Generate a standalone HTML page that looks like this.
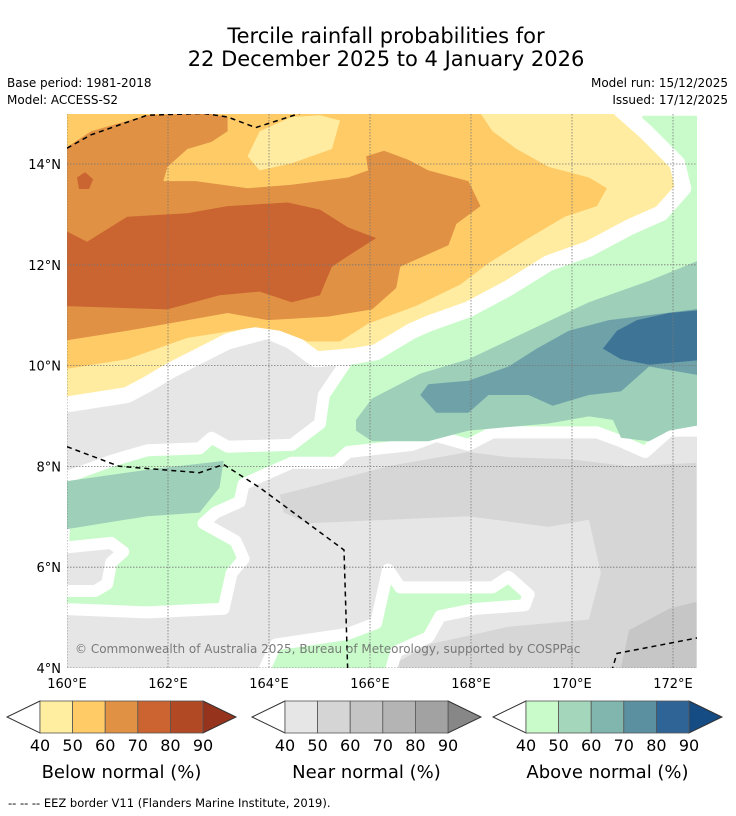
<!DOCTYPE html>
<html><head><meta charset="utf-8"><style>
body{margin:0;background:#fff;width:736px;height:816px;overflow:hidden;font-family:"DejaVu Sans","Liberation Sans",sans-serif}
svg{display:block}
</style></head><body>
<svg id="s" width="736" height="816" xmlns="http://www.w3.org/2000/svg" font-family="DejaVu Sans, Liberation Sans, sans-serif">
<text x="386" y="43" text-anchor="middle" font-size="21">Tercile rainfall probabilities for</text>
<text x="386" y="66" text-anchor="middle" font-size="21">22 December 2025 to 4 January 2026</text>
<text x="7" y="87" font-size="12">Base period: 1981-2018</text>
<text x="7" y="104" font-size="12">Model: ACCESS-S2</text>
<text x="728" y="87" font-size="12" text-anchor="end">Model run: 15/12/2025</text>
<text x="728" y="104" font-size="12" text-anchor="end">Issued: 17/12/2025</text>
<defs><clipPath id="mc"><rect x="67" y="114" width="630" height="554"/></clipPath></defs>
<g id="map" clip-path="url(#mc)"></g>
<g id="ov"></g>
<text x="8" y="807" font-size="11.5">--  --  -- EEZ border V11 (Flanders Marine Institute, 2019).</text>
</svg>
<script>
// axis: lon 160..172.47 , lat 4..15
const lonTicks=[160,162,164,166,168,170,172];
const latTicks=[4,6,8,10,12,14];
const X=lon=>67+(lon-160)*50.5;
const Y=lat=>668-(lat-4)*50.4;
// contour traces sampled on a 125.8/deg (lon) x 141.4/deg (lat) trace grid
const geo=p=>[160+p[0]/125.8,14-(p[1]-152)/141.4];
const gray50=[[530,1080],[600,1060],[800,1000],[1000,960],[1100,975],[1250,980],[1400,1000],[1568,990],[1568,1565],[800,1565],[900,1500],[1100,1450],[1300,1430],[1330,1300],[1300,1150],[1200,1170],[1000,1140],[600,1160],[540,1130]];
const gray60=[[1400,1460],[1500,1400],[1568,1380],[1568,1565],[1380,1565]];
const green40a=[[0,1030],[110,985],[200,955],[330,950],[360,920],[400,945],[560,940],[630,880],[640,800],[700,700],[800,600],[1000,500],[1200,380],[1400,250],[1420,0],[1600,0],[1600,900],[1500,900],[1440,960],[1380,930],[1320,905],[1060,905],[1000,940],[920,915],[860,940],[700,960],[670,990],[560,990],[500,1020],[440,1050],[430,1100],[370,1130],[340,1160],[420,1210],[440,1260],[410,1300],[390,1400],[200,1410],[-20,1400]];
const green40b=[[480,1600],[520,1500],[700,1470],[770,1440],[800,1290],[830,1340],[1060,1340],[1100,1310],[1150,1360],[1140,1390],[1020,1400],[930,1420],[900,1480],[820,1520],[800,1600]];
const grayIsland=[[-20,1230],[110,1215],[140,1240],[110,1270],[100,1330],[70,1350],[-20,1350]];
const green50a=[[720,870],[760,810],[880,740],[1000,700],[1150,620],[1300,540],[1450,480],[1600,410],[1600,880],[1500,900],[1450,930],[1380,920],[1360,870],[1300,860],[1200,880],[1000,900],[900,930],[760,930],[720,900]];
const green50b=[[-20,1045],[200,1010],[390,985],[380,1060],[330,1130],[200,1140],[-20,1180]];
const green60=[[880,800],[900,770],[1000,760],[1100,720],[1170,670],[1250,620],[1350,590],[1600,555],[1600,750],[1450,720],[1380,790],[1300,800],[1210,830],[1150,800],[1050,800],[1000,850],[920,850]];
const green70=[[1335,670],[1370,620],[1420,590],[1500,570],[1600,560],[1600,700],[1450,715],[1380,700]];
const yel40=[[-20,-20],[1360,-20],[1440,60],[1520,150],[1535,220],[1480,290],[1400,330],[1300,390],[1200,430],[1100,500],[1000,560],[900,600],[860,620],[770,680],[720,690],[620,700],[560,650],[500,620],[400,650],[330,690],[260,730],[200,770],[150,800],[-20,830]];
const yel50=[[-20,10],[1030,10],[1060,60],[1120,110],[1200,160],[1300,190],[1345,220],[1320,270],[1240,300],[1150,360],[1050,430],[980,490],[870,550],[750,600],[680,650],[600,650],[530,620],[470,610],[300,640],[150,700],[-20,730]];
const yelTongue=[[450,130],[480,60],[560,20],[630,15],[680,30],[660,110],[560,150],[480,170]];
const yelStrip=[[-20,-20],[1600,-20],[1600,10],[-20,10]];
const org60=[[-20,120],[60,60],[200,15],[350,10],[400,20],[400,60],[360,90],[300,110],[250,160],[240,200],[320,200],[450,220],[560,210],[700,190],[750,170],[745,130],[790,115],[850,140],[900,170],[1000,200],[1030,270],[970,320],[950,380],[870,420],[830,440],[820,500],[760,560],[650,580],[500,590],[400,570],[250,600],[150,620],[-20,650]];
const org70=[[-20,330],[50,370],[150,300],[300,290],[400,270],[550,260],[630,280],[700,330],[770,360],[700,410],[660,440],[630,520],[560,540],[480,510],[380,520],[250,560],[-20,550]];
const org70spot=[[25,190],[45,175],[65,195],[55,222],[30,222]];
const eez1=[[-20,120],[60,70],[200,15],[340,10],[400,20],[470,50],[580,10]];
const eez2=[[0,945],[130,1000],[330,1018],[390,995],[480,1060],[690,1235],[700,1600]];
const eez3=[[1350,1600],[1370,1525],[1600,1475]];
const NS='http://www.w3.org/2000/svg';
const map=document.getElementById('map'),ov=document.getElementById('ov');
function pts(a){return a.map(p=>{const g=geo(p);return X(g[0]).toFixed(1)+','+Y(g[1]).toFixed(1)}).join(' ')}
function poly(par,a,fill,name,stroke){const e=document.createElementNS(NS,'polygon');e.setAttribute('points',pts(a));e.setAttribute('fill',fill);
if(stroke){e.setAttribute('stroke','#fff');e.setAttribute('stroke-width',stroke);e.setAttribute('stroke-linejoin','round');}


par.appendChild(e);}
const bg=document.createElementNS(NS,'rect');bg.setAttribute('x',67);bg.setAttribute('y',114);bg.setAttribute('width',630);bg.setAttribute('height',554);bg.setAttribute('fill','#e6e6e6');


map.appendChild(bg);
poly(map,gray50,'#d6d6d6','near-normal-50-region');
poly(map,gray60,'#c6c6c6','near-normal-60-region');
poly(map,green40a,'#c9fbca','above-normal-40-region',12);
poly(map,green40b,'#c9fbca','above-normal-40-south',12);
poly(map,grayIsland,'#e6e6e6','near-normal-island',12);
poly(map,green50a,'#9dcfb9','above-normal-50-region');
poly(map,green50b,'#9dcfb9','above-normal-50-west');
poly(map,green60,'#6ea2a8','above-normal-60-region');
poly(map,green70,'#3e7597','above-normal-70-region');
poly(map,yel40,'#ffeca0','below-normal-40-region',16);
poly(map,yel50,'#fecb67','below-normal-50-region');
poly(map,yelTongue,'#ffeca0','below-normal-40-tongue');
poly(map,yelStrip,'#ffeca0','below-normal-40-strip');
poly(map,org60,'#e09144','below-normal-60-region');
poly(map,org70,'#ca6430','below-normal-70-region');
poly(map,org70spot,'#ca6430','below-normal-70-spot');
lonTicks.forEach(l=>{const e=document.createElementNS(NS,'line');e.setAttribute('x1',X(l));e.setAttribute('x2',X(l));e.setAttribute('y1',114);e.setAttribute('y2',668);e.setAttribute('stroke','#777');e.setAttribute('stroke-width',0.8);e.setAttribute('stroke-dasharray','1.5,1.5');


map.appendChild(e);
const t=document.createElementNS(NS,'text');t.setAttribute('x',X(l));t.setAttribute('y',688);t.setAttribute('text-anchor','middle');t.setAttribute('font-size',13);t.textContent=l+'°E';


ov.appendChild(t);});
latTicks.forEach(l=>{const e=document.createElementNS(NS,'line');e.setAttribute('x1',67);e.setAttribute('x2',697);e.setAttribute('y1',Y(l));e.setAttribute('y2',Y(l));e.setAttribute('stroke','#777');e.setAttribute('stroke-width',0.8);e.setAttribute('stroke-dasharray','1.5,1.5');


map.appendChild(e);
const t=document.createElementNS(NS,'text');t.setAttribute('x',61);t.setAttribute('y',Y(l)+5);t.setAttribute('text-anchor','end');t.setAttribute('font-size',13);t.textContent=l+'°N';


ov.appendChild(t);});
[eez1,eez2,eez3].forEach(a=>{const e=document.createElementNS(NS,'polyline');e.setAttribute('points',pts(a));e.setAttribute('fill','none');e.setAttribute('stroke','#000');e.setAttribute('stroke-width',1.5);e.setAttribute('stroke-dasharray','5,4');


map.appendChild(e);});
const cr=document.createElementNS(NS,'text');cr.setAttribute('x',75);cr.setAttribute('y',653);cr.setAttribute('font-size',12);cr.setAttribute('fill','#666');cr.setAttribute('fill-opacity','0.85');cr.textContent='© Commonwealth of Australia 2025, Bureau of Meteorology, supported by COSPPac';


map.appendChild(cr);
// colourbars
const cbLabels=[40,50,60,70,80,90];
const cbSets=[
 {x:40,title:'Below normal (%)',cols:['#ffeda0','#fecb67','#e09144','#cb6430','#b14a24'],ext:'#96331c',name:'below-normal-colorbar'},
 {x:285,title:'Near normal (%)',cols:['#e6e6e6','#d5d5d5','#c4c4c4','#b4b4b4','#a2a2a2'],ext:'#878787',name:'near-normal-colorbar'},
 {x:526,title:'Above normal (%)',cols:['#c9fbca','#a3d6bb','#80b6ad','#5a90a0','#2f6496'],ext:'#154c84',name:'above-normal-colorbar'}];
const w=32.6;
cbSets.forEach(c=>{const g=document.createElementNS(NS,'g');


const x0=c.x,x1=c.x+5*w;
let h='<polygon points="'+x0+',701 '+(x0-33)+',717 '+x0+',733" fill="#fff" stroke="#333" stroke-width="1"/>';
h+='<polygon points="'+x1+',701 '+(x1+33)+',717 '+x1+',733" fill="'+c.ext+'" stroke="#333" stroke-width="1"/>';
c.cols.forEach((col,i)=>{h+='<rect x="'+(x0+i*w)+'" y="701" width="'+w+'" height="32" fill="'+col+'" stroke="#555" stroke-width="0.8"/>';});
cbLabels.forEach((v,i)=>{h+='<text x="'+(x0+i*w)+'" y="751" text-anchor="middle" font-size="16">'+v+'</text>';});
h+='<text x="'+(x0+2.5*w)+'" y="778" text-anchor="middle" font-size="18">'+c.title+'</text>';
g.innerHTML=h;ov.appendChild(g);});
</script>
</body></html>
